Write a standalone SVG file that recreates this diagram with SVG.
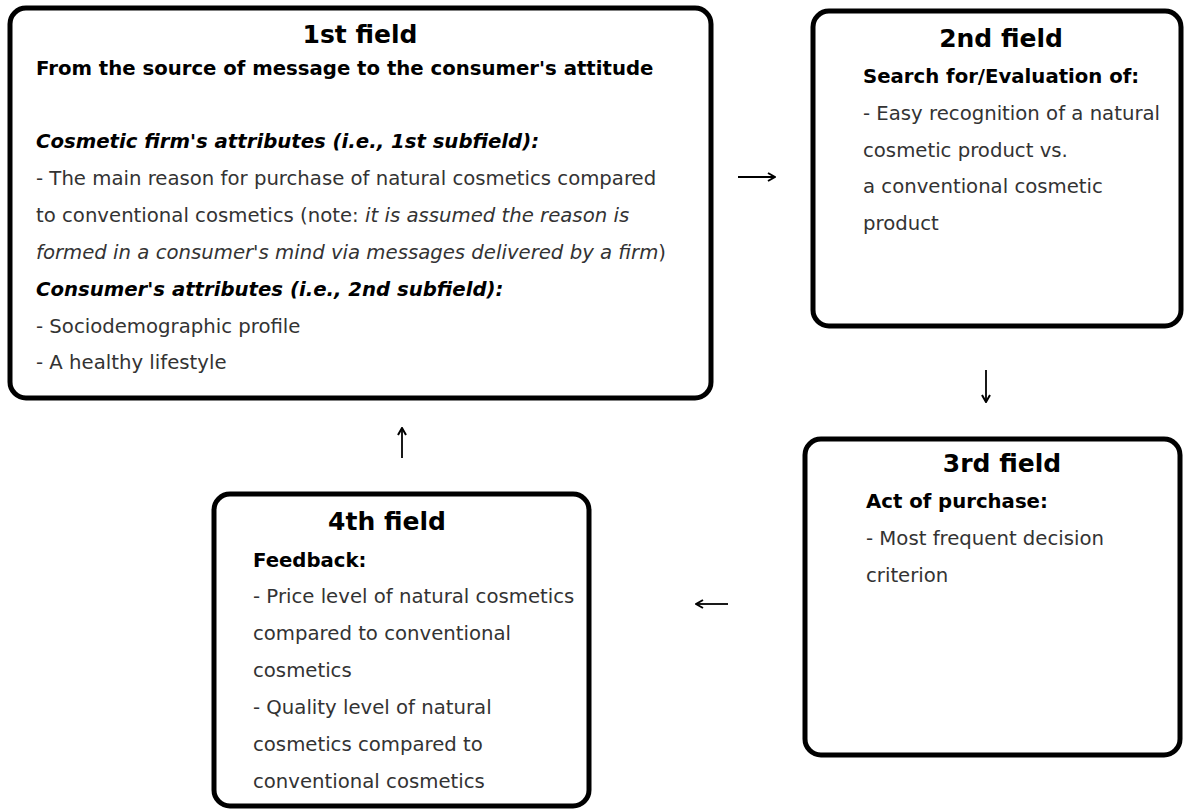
<svg xmlns="http://www.w3.org/2000/svg" width="1184" height="812" viewBox="0 0 1184 812">
<style>
.box{fill:#fff;stroke:#000;stroke-width:5}
.t{font-family:"DejaVu Sans",Verdana,sans-serif;font-weight:bold;font-size:25px;fill:#000;text-anchor:middle}
.b{font-family:"DejaVu Sans",Verdana,sans-serif;font-size:19.7px;fill:#333}
.h{font-weight:bold;fill:#000}
.hi{font-weight:bold;font-style:italic;fill:#000}
.i{font-style:italic}
.conn line{stroke:#000;stroke-width:1.8;fill:none}
</style>
<defs>
<marker id="ah" viewBox="0 0 10 10" refX="9" refY="5" markerWidth="10" markerHeight="10" markerUnits="userSpaceOnUse" orient="auto">
<path d="M2,1 L9,5 L2,9" fill="none" stroke="#000" stroke-width="2"/>
</marker>
</defs>
<g id="field1">
<rect class="box" x="10" y="8" width="701" height="390" rx="16"/>
<text class="t" x="360" y="43">1st field</text>
<text class="b h" x="36" y="75">From the source of message to the consumer's attitude</text>
<text class="b hi" x="36" y="148">Cosmetic firm's attributes (i.e., 1st subfield):</text>
<text class="b" x="36" y="185">- The main reason for purchase of natural cosmetics compared</text>
<text class="b" x="36" y="222">to conventional cosmetics (note: <tspan class="i">it is assumed the reason is</tspan></text>
<text class="b" x="36" y="259"><tspan class="i">formed in a consumer's mind via messages delivered by a firm</tspan>)</text>
<text class="b hi" x="36" y="296">Consumer's attributes (i.e., 2nd subfield):</text>
<text class="b" x="36" y="333">- Sociodemographic profile</text>
<text class="b" x="36" y="369">- A healthy lifestyle</text>
</g>
<g id="field2">
<rect class="box" x="813" y="11" width="368" height="315" rx="16"/>
<text class="t" x="1001" y="47">2nd field</text>
<text class="b h" x="863" y="83">Search for/Evaluation of:</text>
<text class="b" x="863" y="120">- Easy recognition of a natural</text>
<text class="b" x="863" y="157">cosmetic product vs.</text>
<text class="b" x="863" y="193">a conventional cosmetic</text>
<text class="b" x="863" y="230">product</text>
</g>
<g id="field3">
<rect class="box" x="805" y="439" width="375" height="316" rx="16"/>
<text class="t" x="1002" y="472">3rd field</text>
<text class="b h" x="866" y="508">Act of purchase:</text>
<text class="b" x="866" y="545">- Most frequent decision</text>
<text class="b" x="866" y="582">criterion</text>
</g>
<g id="field4">
<rect class="box" x="214" y="494" width="375" height="312" rx="16"/>
<text class="t" x="387" y="530">4th field</text>
<text class="b h" x="253" y="567">Feedback:</text>
<text class="b" x="253" y="603">- Price level of natural cosmetics</text>
<text class="b" x="253" y="640">compared to conventional</text>
<text class="b" x="253" y="677">cosmetics</text>
<text class="b" x="253" y="714">- Quality level of natural</text>
<text class="b" x="253" y="751">cosmetics compared to</text>
<text class="b" x="253" y="788">conventional cosmetics</text>
</g>
<g id="connectors" class="conn">
<line x1="738" y1="177" x2="775" y2="177" marker-end="url(#ah)"/>
<line x1="986" y1="370" x2="986" y2="402" marker-end="url(#ah)"/>
<line x1="728" y1="604" x2="696" y2="604" marker-end="url(#ah)"/>
<line x1="402" y1="458" x2="402" y2="428" marker-end="url(#ah)"/>
</g>
</svg>
